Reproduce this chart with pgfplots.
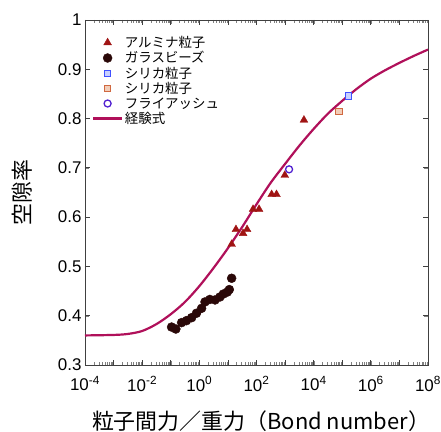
\documentclass[border=0pt]{standalone}
\usepackage{pgfplots}
\pgfplotsset{compat=1.18}
\usetikzlibrary{calc}
\usepackage{fontspec}
\setmainfont{Liberation Sans}
\newfontfamily\cjk{Noto Sans CJK JP}
\definecolor{curvec}{HTML}{B0105A}
\definecolor{alum}{HTML}{A01414}
\definecolor{glass}{HTML}{2A0808}
\definecolor{sblue}{HTML}{4050FF}
\definecolor{sbluef}{HTML}{C8D0FF}
\definecolor{sor}{HTML}{D06840}
\definecolor{sorf}{HTML}{F2CDB8}
\definecolor{flyash}{HTML}{5020D0}
\pgfplotsset{longline/.style={legend image code/.code={\draw[##1] (-0.2cm,0cm) -- (0.8cm,0cm);}}}
\begin{document}
\begin{tikzpicture}
\begin{axis}[
  scale only axis, width=343bp, height=345bp,
  xmode=log, xmin=1e-4, xmax=1e8, ymin=0.3, ymax=1,
  xtick={1e-4,1e-3,1e-2,1e-1,1,1e1,1e2,1e3,1e4,1e5,1e6,1e7,1e8},
  xticklabels={10\textsuperscript{-4},,10\textsuperscript{-2},,10\textsuperscript{0},,10\textsuperscript{2},,10\textsuperscript{4},,10\textsuperscript{6},,10\textsuperscript{8}},
  minor xtick={},
  ytick={0.3,0.4,0.5,0.6,0.7,0.8,0.9,1},
  yticklabels={0.3,0.4,0.5,0.6,0.7,0.8,0.9,1},
  axis line style={black!75, line width=0.8pt},
  tick label style={font=\fontsize{17}{19}\selectfont},
  xticklabel style={yshift=-8bp},
  /pgf/number format/assume math mode=true,
  every axis x label/.style={at={(rel axis cs:0.5,0)}, xshift=4.5bp, yshift=-56bp, anchor=center},
  every axis y label/.style={at={(rel axis cs:0,0.5)}, xshift=-63bp, rotate=90, anchor=center},
  xlabel={\cjk\fontsize{22}{24}\selectfont 粒子間力／重力（Bond number）},
  ylabel={\cjk\fontsize{22}{24}\selectfont 空隙率},
  legend style={draw=none, fill=none, at={(0.015,0.965)}, anchor=north west,
    font=\cjk\fontsize{13.5}{15}\selectfont, row sep=-1.5bp, inner sep=2bp},
  legend cell align=left,
]
\coordinate (sw) at (rel axis cs:0,0);
\coordinate (ne) at (rel axis cs:1,1);
\pgfplotsinvokeforeach{1e-3,1e-2,1e-1,1,1e1,1e2,1e3,1e4,1e5,1e6,1e7}{
  \draw[black!75, line width=0.8pt] (axis cs:#1,0.3) -- ++(0bp,5bp);
  \draw[black!75, line width=0.8pt] (axis cs:#1,1) -- ++(0bp,-5bp);
}
\pgfplotsinvokeforeach{0.4,0.5,0.6,0.7,0.8,0.9}{
  \draw[black!75, line width=0.8pt] (axis cs:1e-4,#1) -- ++(5bp,0bp);
  \draw[black!75, line width=0.8pt] (axis cs:1e8,#1) -- ++(-5bp,0bp);
}
\addplot[only marks, mark=triangle*, mark size=4.5bp, color=alum, fill=alum] coordinates {
(13.5,0.545) (19.1,0.575) (33.9,0.567) (46.8,0.575) (75.9,0.616) (123,0.616)
(339,0.646) (501,0.646) (977,0.685) (4571,0.797)
};
\addlegendentry{アルミナ粒子}
\addplot[only marks, mark=*, mark size=4.5bp, color=glass, fill=glass] coordinates {
(0.107,0.377) (0.151,0.373) (0.240,0.386) (0.355,0.390) (0.537,0.396) (0.794,0.405)
(1.20,0.415) (1.58,0.428) (2.34,0.433) (3.55,0.432) (5.25,0.438) (6.92,0.444)
(9.55,0.448) (11.2,0.453) (13.5,0.476)
};
\addlegendentry{ガラスビーズ}
\addplot[only marks, mark=square*, mark size=3.2bp, draw=sblue, fill=sbluef, line width=1pt] coordinates {
(162000,0.846)
};
\addlegendentry{シリカ粒子}
\addplot[only marks, mark=square*, mark size=3.2bp, draw=sor, fill=sorf, line width=1pt] coordinates {
(75900,0.814)
};
\addlegendentry{シリカ粒子}
\addplot[only marks, mark=o, mark size=3.5bp, draw=flyash, line width=1.3pt] coordinates {
(1380,0.697)
};
\addlegendentry{フライアッシュ}
\addplot[curvec, line width=2.2bp, smooth, no marks, longline] coordinates {
(1e-4,0.360) (1e-3,0.361) (3.16e-3,0.363) (1e-2,0.369) (3.16e-2,0.383)
(0.1,0.403) (0.316,0.428) (1,0.460) (3.16,0.497) (10,0.537) (31.6,0.580)
(100,0.626) (316,0.670) (1000,0.708) (3160,0.745) (1e4,0.779) (3.16e4,0.810)
(1e5,0.836) (3.16e5,0.860) (1e6,0.881) (3.16e6,0.898) (1e7,0.913) (3.16e7,0.927) (1e8,0.940)
};
\addlegendentry{経験式}
\end{axis}
\pgfresetboundingbox
\path ($(sw)+(-85bp,-67bp)$) rectangle ($(ne)+(13bp,20bp)$);
\end{tikzpicture}
\end{document}
